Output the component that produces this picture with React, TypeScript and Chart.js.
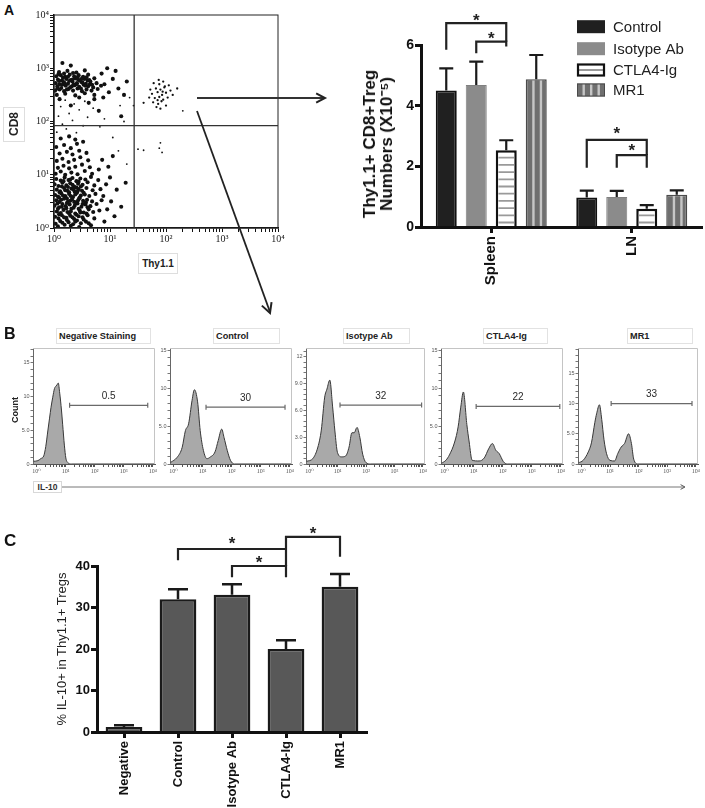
import React, { useEffect, useRef } from "react";
import { Chart, registerables } from "chart.js";

Chart.register(...registerables);

const SANS = "'Liberation Sans', Arial, Helvetica, sans-serif";
const SERIF = "'Liberation Serif', 'DejaVu Serif', 'Times New Roman', serif";

/* ================= DATA ================= */

// Panel A (left): CD8 vs Thy1.1 dot plot. Events as flat [log10 Thy1.1, log10 CD8] pairs.
const dotPlotGateThy11 = 27;
const dotPlotGateCD8 = 84;
const cd8NegThy11NegEvents = [
  0.03,0.08, 0.11,0.13, 0.19,0.06, 0.26,0.11, 0.34,0.07, 0.41,0.14, 0.48,0.09, 0.57,0.12, 0.66,0.05,
  0.02,0.21, 0.08,0.18, 0.14,0.24, 0.22,0.19, 0.29,0.23, 0.36,0.17, 0.44,0.22, 0.51,0.2, 0.6,0.24, 0.72,0.18,
  0.05,0.31, 0.12,0.28, 0.17,0.34, 0.24,0.3, 0.31,0.36, 0.38,0.27, 0.46,0.33, 0.53,0.29, 0.62,0.35, 0.7,0.3, 0.81,0.33,
  0.01,0.42, 0.09,0.39, 0.15,0.45, 0.21,0.41, 0.28,0.44, 0.35,0.38, 0.42,0.46, 0.49,0.4, 0.56,0.44, 0.65,0.41, 0.76,0.45,
  0.04,0.52, 0.1,0.49, 0.18,0.55, 0.25,0.5, 0.32,0.54, 0.39,0.48, 0.45,0.56, 0.52,0.51, 0.59,0.53, 0.68,0.5, 0.85,0.52,
  0.02,0.62, 0.07,0.59, 0.13,0.65, 0.2,0.6, 0.27,0.64, 0.34,0.58, 0.41,0.66, 0.48,0.61, 0.55,0.63, 0.63,0.6, 0.74,0.64,
  0.05,0.72, 0.11,0.69, 0.18,0.75, 0.24,0.7, 0.31,0.74, 0.37,0.68, 0.44,0.73, 0.5,0.7, 0.58,0.75, 0.69,0.71, 0.83,0.73,
  0.01,0.82, 0.08,0.79, 0.15,0.85, 0.22,0.8, 0.29,0.84, 0.36,0.78, 0.43,0.83, 0.51,0.81, 0.6,0.86, 0.72,0.8,
  0.04,0.92, 0.12,0.89, 0.19,0.95, 0.26,0.9, 0.33,0.94, 0.4,0.88, 0.47,0.93, 0.56,0.91, 0.66,0.96, 0.79,0.9,
  0.07,0.03, 0.15,0.1, 0.23,0.15, 0.3,0.04, 0.38,0.12, 0.45,0.02, 0.53,0.16, 0.62,0.09, 0.09,0.26, 0.18,0.2,
  0.27,0.27, 0.33,0.2, 0.4,0.25, 0.47,0.29, 0.58,0.27, 0.07,0.36, 0.14,0.4, 0.22,0.37, 0.3,0.31, 0.37,0.42,
  0.44,0.36, 0.51,0.45, 0.6,0.39, 0.06,0.46, 0.13,0.53, 0.23,0.47, 0.29,0.51, 0.36,0.49, 0.43,0.52, 0.57,0.48,
  0.09,0.57, 0.16,0.61, 0.23,0.56, 0.3,0.6, 0.38,0.63, 0.46,0.57, 0.53,0.66, 0.1,0.67, 0.2,0.71, 0.27,0.67,
  0.35,0.72, 0.42,0.69, 0.14,0.78, 0.25,0.77, 0.33,0.81, 0.4,0.76, 0.48,0.78, 0.17,0.88, 0.29,0.91, 0.44,0.87,
  0.03,1.02, 0.12,1.06, 0.2,1.0, 0.31,1.04, 0.42,1.01, 0.55,1.07, 0.68,1.02, 0.07,1.13, 0.17,1.17, 0.27,1.12,
  0.38,1.15, 0.5,1.19, 0.64,1.14, 0.8,1.1, 0.05,1.26, 0.15,1.3, 0.26,1.24, 0.36,1.28, 0.47,1.33, 0.61,1.27,
  0.1,1.4, 0.23,1.43, 0.33,1.38, 0.45,1.45, 0.58,1.41, 0.04,1.52, 0.18,1.56, 0.3,1.5, 0.41,1.58, 0.52,1.62,
  0.12,1.68, 0.27,1.72, 0.38,1.66,
  0.9,0.12, 0.95,0.35, 0.88,0.6, 0.93,0.82, 1.02,0.5, 1.08,0.22, 1.0,0.95, 1.12,0.72, 0.97,1.15, 1.2,0.4,
  1.28,0.85, 0.86,1.28, 1.05,1.35,
];
const cd8PosThy11NegEvents = [
  0.05,2.5, 0.2,2.52, 0.38,2.49, 0.55,2.53, 0.72,2.5,
  0.02,2.58, 0.1,2.6, 0.18,2.57, 0.26,2.61, 0.34,2.58, 0.42,2.62, 0.5,2.57, 0.58,2.6, 0.67,2.58, 0.78,2.61,
  0.06,2.66, 0.13,2.63, 0.21,2.67, 0.29,2.64, 0.37,2.68, 0.45,2.65, 0.53,2.69, 0.61,2.66, 0.7,2.64, 0.84,2.67,
  0.03,2.72, 0.1,2.7, 0.17,2.74, 0.25,2.71, 0.33,2.75, 0.41,2.72, 0.49,2.74, 0.57,2.71, 0.65,2.75, 0.76,2.72,
  0.07,2.79, 0.14,2.77, 0.22,2.8, 0.3,2.78, 0.38,2.81, 0.46,2.77, 0.54,2.8, 0.63,2.78, 0.72,2.81,
  0.04,2.85, 0.12,2.87, 0.2,2.84, 0.28,2.88, 0.36,2.85, 0.44,2.87, 0.52,2.84, 0.61,2.88,
  0.09,2.93, 0.24,2.95, 0.4,2.92, 0.55,2.96, 0.3,3.05,
  0.06,2.62, 0.15,2.69, 0.23,2.6, 0.32,2.66, 0.4,2.7, 0.48,2.62, 0.56,2.67, 0.64,2.7, 0.09,2.76, 0.19,2.72,
  0.27,2.76, 0.35,2.7, 0.43,2.79, 0.51,2.73, 0.6,2.77, 0.68,2.69, 0.16,2.82, 0.25,2.84, 0.33,2.79, 0.42,2.83,
  0.5,2.81, 0.58,2.83, 0.08,2.89, 0.18,2.9, 0.34,2.91,
  0.9,2.7, 0.98,2.55, 1.05,2.8, 0.88,2.45, 1.15,2.62, 1.25,2.5, 0.1,2.42, 0.3,2.3, 0.62,2.35, 0.85,2.9,
  1.1,2.95, 0.45,2.45, 0.72,2.42, 0.15,3.1, 0.95,3.0, 1.3,2.75, 0.8,2.2, 1.2,2.1,
];
const cd8PosThy11PosEvents = [
  1.78,2.72, 1.88,2.7, 1.95,2.75, 2.05,2.68, 1.82,2.62, 1.9,2.6, 1.97,2.64, 2.08,2.58, 1.75,2.52, 1.85,2.55,
  1.93,2.5, 2.0,2.54, 1.8,2.44, 1.88,2.46, 1.95,2.41, 2.03,2.45, 1.77,2.36, 1.86,2.33, 1.92,2.38, 2.0,2.3,
  1.83,2.27, 1.9,2.24, 1.98,2.66, 1.87,2.78, 2.12,2.5, 1.72,2.6, 1.94,2.56, 1.85,2.4, 2.2,2.62, 1.7,2.45, 1.6,2.35,
];
const scatteredEvents = [
  0.05,1.8, 0.22,1.86, 0.4,1.79, 0.15,1.95, 0.33,2.02, 0.52,1.92, 0.08,2.1, 0.27,2.15, 0.6,2.08, 0.45,2.22,
  0.12,2.28, 0.36,2.33, 0.7,2.25, 0.9,2.05, 1.05,1.7, 0.82,1.9, 1.18,2.3, 0.2,2.4, 0.55,2.38,
  1.42,2.3, 1.25,2.0, 1.5,1.48, 1.6,1.46, 1.9,1.6, 1.93,1.42, 1.88,1.5, 2.3,2.2, 1.35,2.45, 1.15,1.45, 1.3,1.2,
];

// Panel A (right): Thy1.1+ CD8+ Treg numbers (x10^-5)
const tissueLabels = ["Spleen", "LN"];
const groupLabels = ["Control", "Isotype Ab", "CTLA4-Ig", "MR1"];
const controlTreg = [4.5, 0.97];
const isotypeTreg = [4.68, 0.99];
const ctla4Treg = [2.53, 0.6];
const mr1Treg = [4.87, 1.06];
const controlTregSem = [0.73, 0.23];
const isotypeTregSem = [0.77, 0.2];
const ctla4TregSem = [0.33, 0.12];
const mr1TregSem = [0.8, 0.15];
const tregTicks = [0, 2, 4, 6];
// [tissue, fromGroup, toGroup, bracketLevel, leftFoot, rightFoot, starLevel]
const tregBrackets = [
  [0, 0, 2, 6.72, 5.84, 6.11, 6.93],
  [0, 1, 2, 6.11, 5.73, 5.95, 6.36],
  [1, 0, 2, 2.87, 1.95, 2.37, 3.2],
  [1, 1, 2, 2.37, 1.95, 1.95, 2.65],
];

// Panel B: IL-10 histograms, [log10 IL-10, count]
const histogramTitles = ["Negative Staining", "Control", "Isotype Ab", "CTLA4-Ig", "MR1"];
const histogramGateLabels = ["0.5", "30", "32", "22", "33"];
const negativeStainingCurve = [
  [-0.1,0.4],[0.05,0.5],[0.15,0.8],[0.25,1.2],[0.32,2.6],[0.39,4.9],[0.45,6.8],[0.5,8.4],[0.56,9.9],
  [0.62,11.2],[0.66,11.5],[0.7,11.7],[0.75,12.0],[0.8,10.5],[0.86,8.0],[0.9,5.9],[0.96,2.8],[1.01,0.9],
  [1.08,0.2],[1.2,0],[4.1,0],
];
const controlCurve = [
  [-0.1,0.2],[0.13,0.9],[0.3,2.2],[0.41,4.4],[0.52,5.3],[0.64,8.4],[0.72,9.8],[0.83,8.2],[0.92,4.4],
  [1.03,1.8],[1.15,0.7],[1.26,0.9],[1.43,1.6],[1.54,3.1],[1.66,4.6],[1.74,3.5],[1.85,1.8],[1.96,0.5],
  [2.1,0],[4.1,0],
];
const isotypeCurve = [
  [-0.1,0.3],[0.12,0.6],[0.3,1.9],[0.42,3.8],[0.54,7.5],[0.62,8.4],[0.72,9.4],[0.82,6.4],[0.9,3.7],
  [0.99,1.3],[1.14,0.8],[1.28,0.9],[1.4,1.9],[1.5,3.5],[1.58,3.5],[1.68,4.1],[1.78,3.0],[1.88,1.1],
  [2.0,0.15],[2.16,0],[4.1,0],
];
const ctla4Curve = [
  [-0.1,0.1],[0.05,0.5],[0.17,1.2],[0.35,2.9],[0.47,4.9],[0.56,7.5],[0.65,9.5],[0.77,5.2],[0.85,2.9],
  [0.95,0.5],[1.19,0.4],[1.37,0.8],[1.52,2.0],[1.65,2.7],[1.77,1.8],[1.88,1.4],[2.03,0.3],[2.17,0],[4.1,0],
];
const mr1Curve = [
  [-0.1,0.2],[0.06,0.6],[0.24,2.0],[0.35,3.5],[0.47,6.9],[0.53,8.3],[0.63,9.8],[0.71,7.4],[0.79,4.0],
  [0.88,1.7],[1.0,0.6],[1.16,0.5],[1.27,1.7],[1.39,2.8],[1.51,3.4],[1.65,5.0],[1.75,3.4],[1.83,0.8],
  [1.98,0],[4.1,0],
];
const histogramCurves = [negativeStainingCurve, controlCurve, isotypeCurve, ctla4Curve, mr1Curve];
const histogramYMax = [17.2, 15.3, 13.0, 15.3, 19.2];
const histogramYTicks = [[0, 5, 10, 15], [0, 5, 10, 15], [0, 3, 6, 9, 12], [0, 5, 10, 15], [0, 5, 10, 15]];
const histogramGateStart = [1.14, 1.12, 1.08, 1.09, 1.04];
const histogramGateEnd = [3.83, 3.84, 3.96, 3.97, 3.87];
const histogramGateLevel = [8.7, 7.5, 6.6, 7.6, 10.0];

// Panel C: % IL-10+ in Thy1.1+ Tregs
const il10Labels = ["Negative", "Control", "Isotype Ab", "CTLA4-Ig", "MR1"];
const il10Percent = [1.2, 32.0, 33.1, 20.0, 35.0];
const il10Sem = [0.4, 2.4, 2.5, 2.1, 3.1];
const il10Ticks = [0, 10, 20, 30, 40];
// [fromBar, toBar, bracketLevel, leftFoot, rightFoot, starLevel]
const il10Brackets = [
  [1, 3, 44.1, 41.4, 40.0, 46.3],
  [2, 3, 40.0, 37.3, 37.3, 41.9],
  [3, 4, 47.0, 44.3, 42.2, 48.7],
];

/* ================= HELPERS ================= */

const SUP = ["⁰", "¹", "²", "³", "⁴"];
const decadeTicks: number[] = [];
for (let d = 0; d < 4; d++) for (let k = 1; k < 10; k++) decadeTicks.push(k * Math.pow(10, d));
decadeTicks.push(10000);
const logLabel = (v: number) => {
  const e = Math.log10(v);
  const r = Math.round(e);
  return Math.abs(e - r) < 1e-6 && r >= 0 && r <= 4 ? "10" + SUP[r] : "";
};
const toPoints = (flat: number[]) => {
  const out: { x: number; y: number }[] = [];
  for (let i = 0; i < flat.length; i += 2) out.push({ x: Math.pow(10, flat[i]), y: Math.pow(10, flat[i + 1]) });
  return out;
};
const zeroPad = (s: any) => { s.paddingLeft = 0; s.paddingRight = 0; s.paddingTop = 0; s.paddingBottom = 0; };
const fixWidth = (w: number) => (s: any) => { s.width = w; zeroPad(s); };
const fixHeight = (h: number) => (s: any) => { s.height = h; zeroPad(s); };
const setTicks = (vals: number[]) => (s: any) => { s.ticks = vals.map((v) => ({ value: v })); };

function drawStar(ctx: any, x: number, cy: number) {
  ctx.save();
  ctx.fillStyle = "#222";
  ctx.font = `bold 17px ${SANS}`;
  ctx.textAlign = "center";
  ctx.textBaseline = "alphabetic";
  ctx.fillText("*", x, cy + 9.5);
  ctx.restore();
}
function hStripes(ctx: any, l: number, t: number, r: number, b: number) {
  if (b - t <= 0) return;
  ctx.save();
  ctx.beginPath(); ctx.rect(l, t, r - l, b - t); ctx.clip();
  ctx.strokeStyle = "#9a9a9a"; ctx.lineWidth = 1.8;
  for (let yy = b - 4; yy > t; yy -= 7.2) { ctx.beginPath(); ctx.moveTo(l, yy); ctx.lineTo(r, yy); ctx.stroke(); }
  ctx.restore();
}
function vStripes(ctx: any, l: number, t: number, r: number, b: number) {
  ctx.save();
  ctx.beginPath(); ctx.rect(l, t, r - l, b - t); ctx.clip();
  ctx.fillStyle = "#c6c6c6";
  for (let xx = l + 5.5; xx < r - 2; xx += 7.5) ctx.fillRect(xx, t, 2.4, b - t);
  ctx.restore();
}

function ChartBox({ left, top, width, height, make }: any) {
  const ref = useRef<HTMLCanvasElement>(null);
  useEffect(() => {
    const chart = new Chart(ref.current as HTMLCanvasElement, make());
    return () => chart.destroy();
  }, []);
  return <canvas ref={ref} width={width} height={height} style={{ position: "absolute", left, top, width, height }} />;
}

/* ================= CHART CONFIGS ================= */

const dotPlotOverlay = {
  id: "dotPlotOverlay",
  afterDatasetsDraw(chart: any) {
    const { ctx, chartArea: a, scales } = chart;
    ctx.save();
    ctx.strokeStyle = "#222"; ctx.lineWidth = 1;
    ctx.strokeRect(a.left, a.top, a.right - a.left, a.bottom - a.top);
    const gx = scales.x.getPixelForValue(dotPlotGateThy11);
    const gy = scales.y.getPixelForValue(dotPlotGateCD8);
    ctx.strokeStyle = "#333"; ctx.lineWidth = 1.3;
    ctx.beginPath();
    ctx.moveTo(gx, a.top); ctx.lineTo(gx, a.bottom);
    ctx.moveTo(a.left, gy); ctx.lineTo(a.right, gy);
    ctx.stroke();
    ctx.restore();
  },
};

const logAxis = (size: number, afterFit: any) => ({
  type: "logarithmic",
  min: 1,
  max: 10000,
  afterBuildTicks: setTicks(decadeTicks),
  ticks: { autoSkip: false, maxRotation: 0, callback: (v: any) => logLabel(Number(v)), font: { family: SERIF, size }, color: "#222", padding: 1 },
  grid: { drawOnChartArea: false, tickLength: 4, tickColor: "#111" },
  border: { color: "#111", width: 1.5 },
  afterFit,
});

const dotPlotConfig = () => ({
  type: "scatter",
  data: {
    datasets: [
      { data: toPoints(cd8NegThy11NegEvents), pointRadius: 2.05, backgroundColor: "#111", borderWidth: 0 },
      { data: toPoints(cd8PosThy11NegEvents), pointRadius: 2.05, backgroundColor: "#111", borderWidth: 0 },
      { data: toPoints(cd8PosThy11PosEvents), pointRadius: 1.15, backgroundColor: "#111", borderWidth: 0 },
      { data: toPoints(scatteredEvents), pointRadius: 0.9, backgroundColor: "#111", borderWidth: 0 },
    ],
  },
  options: {
    animation: false, responsive: false, events: [],
    layout: { padding: { top: 9, right: 8, left: 0, bottom: 0 } },
    plugins: { legend: { display: false }, tooltip: { enabled: false } },
    scales: { x: logAxis(10, fixHeight(22)), y: logAxis(10, fixWidth(26)) },
  },
  plugins: [dotPlotOverlay],
});

const tregSems = [controlTregSem, isotypeTregSem, ctla4TregSem, mr1TregSem];
const tregOverlay = {
  id: "tregOverlay",
  afterDatasetsDraw(chart: any) {
    const { ctx, scales, chartArea } = chart;
    const y = scales.y;
    ctx.save();
    chart.getDatasetMeta(2).data.forEach((el: any) => {
      const p = el.getProps(["x", "y", "base", "width"], true);
      hStripes(ctx, p.x - p.width / 2 + 2.5, p.y + 2.5, p.x + p.width / 2 - 2.5, p.base);
    });
    chart.getDatasetMeta(3).data.forEach((el: any) => {
      const p = el.getProps(["x", "y", "base", "width"], true);
      vStripes(ctx, p.x - p.width / 2 + 1, p.y + 1, p.x + p.width / 2 - 1, p.base);
    });
    ctx.strokeStyle = "#1a1a1a"; ctx.lineWidth = 2.2;
    tregSems.forEach((sems, d) => {
      chart.getDatasetMeta(d).data.forEach((el: any, i: number) => {
        const p = el.getProps(["x", "y"], true);
        const v = chart.data.datasets[d].data[i];
        const ty = y.getPixelForValue(v + sems[i]);
        ctx.beginPath();
        ctx.moveTo(p.x, p.y); ctx.lineTo(p.x, ty);
        ctx.moveTo(p.x - 7, ty); ctx.lineTo(p.x + 7, ty);
        ctx.stroke();
      });
    });
    ctx.lineWidth = 2.2; ctx.strokeStyle = "#222";
    tregBrackets.forEach(([t, a, b, lv, lf, rf, st]) => {
      const x1 = chart.getDatasetMeta(a).data[t].x;
      const x2 = chart.getDatasetMeta(b).data[t].x;
      const py = y.getPixelForValue(lv);
      ctx.beginPath();
      ctx.moveTo(x1, y.getPixelForValue(lf)); ctx.lineTo(x1, py); ctx.lineTo(x2, py); ctx.lineTo(x2, y.getPixelForValue(rf));
      ctx.stroke();
      drawStar(ctx, (x1 + x2) / 2, y.getPixelForValue(st));
    });
    // legend
    const lx = chartArea.right - 125;
    const rows = [26.7, 48.7, 70, 90];
    groupLabels.forEach((label, i) => {
      const cy = rows[i];
      const t = cy - 6.5, h = 13, w = 28;
      if (i === 0) { ctx.fillStyle = "#202020"; ctx.fillRect(lx, t, w, h); }
      if (i === 1) { ctx.fillStyle = "#8b8b8b"; ctx.fillRect(lx, t, w, h); }
      if (i === 2) {
        ctx.fillStyle = "#fff"; ctx.fillRect(lx, t, w, h);
        ctx.fillStyle = "#9a9a9a"; ctx.fillRect(lx + 2, cy - 1, w - 4, 2);
        ctx.strokeStyle = "#111"; ctx.lineWidth = 2.2; ctx.strokeRect(lx + 1, t + 1, w - 2, h - 2);
      }
      if (i === 3) {
        ctx.fillStyle = "#6f6f6f"; ctx.fillRect(lx, t, w, h);
        vStripes(ctx, lx, t, lx + w, t + h);
        ctx.strokeStyle = "#4a4a4a"; ctx.lineWidth = 1; ctx.strokeRect(lx + 0.5, t + 0.5, w - 1, h - 1);
      }
      ctx.fillStyle = "#222";
      ctx.font = `15px ${SANS}`;
      ctx.textAlign = "left"; ctx.textBaseline = "middle";
      ctx.fillText(label, lx + 36, cy + 1);
    });
    ctx.restore();
  },
};

const boldAxis = () => ({
  grid: { drawOnChartArea: false, tickLength: 6, tickWidth: 3, tickColor: "#111" },
  border: { color: "#111", width: 3, z: 1 },
});

const tregBarConfig = () => {
  const common = { categoryPercentage: 0.854, barPercentage: 0.7 };
  return {
    type: "bar",
    data: {
      labels: tissueLabels,
      datasets: [
        { label: groupLabels[0], data: controlTreg, backgroundColor: "#202020", borderColor: "#111", borderWidth: 2, ...common },
        { label: groupLabels[1], data: isotypeTreg, backgroundColor: "#8b8b8b", borderColor: "#808080", borderWidth: 1, ...common },
        { label: groupLabels[2], data: ctla4Treg, backgroundColor: "#ffffff", borderColor: "#111", borderWidth: 2.5, ...common },
        { label: groupLabels[3], data: mr1Treg, backgroundColor: "#6f6f6f", borderColor: "#4a4a4a", borderWidth: 1.5, ...common },
      ],
    },
    options: {
      animation: false, responsive: false, events: [],
      layout: { padding: { top: 45, right: 3, left: 0, bottom: 0 } },
      plugins: { legend: { display: false }, tooltip: { enabled: false } },
      scales: {
        x: {
          ...boldAxis(),
          grid: { offset: false, drawOnChartArea: false, tickLength: 6, tickWidth: 3, tickColor: "#111" },
          ticks: { font: { family: SANS, size: 15, weight: "bold" }, color: "#111", minRotation: 90, maxRotation: 90, padding: 3, autoSkip: false },
          afterFit: fixHeight(73),
        },
        y: {
          ...boldAxis(),
          min: 0, max: 6,
          afterBuildTicks: setTicks(tregTicks),
          ticks: { font: { family: SANS, size: 14, weight: "bold" }, color: "#111", padding: 1 },
          afterFit: fixWidth(71),
        },
      },
    },
    plugins: [tregOverlay],
  };
};

const histogramOverlay = (i: number) => ({
  id: "histOverlay" + i,
  afterDatasetsDraw(chart: any) {
    const { ctx, chartArea: a, scales } = chart;
    ctx.save();
    ctx.strokeStyle = "#c4c4c4"; ctx.lineWidth = 1;
    ctx.beginPath();
    ctx.moveTo(a.left, a.top + 0.5); ctx.lineTo(a.right - 0.5, a.top + 0.5); ctx.lineTo(a.right - 0.5, a.bottom);
    ctx.stroke();
    const x1 = scales.x.getPixelForValue(Math.pow(10, histogramGateStart[i]));
    const x2 = scales.x.getPixelForValue(Math.pow(10, histogramGateEnd[i]));
    const gy = scales.y.getPixelForValue(histogramGateLevel[i]);
    ctx.strokeStyle = "#6a6a6a"; ctx.lineWidth = 1.2;
    ctx.beginPath();
    ctx.moveTo(x1, gy); ctx.lineTo(x2, gy);
    ctx.moveTo(x1, gy - 2.5); ctx.lineTo(x1, gy + 2.5);
    ctx.moveTo(x2, gy - 2.5); ctx.lineTo(x2, gy + 2.5);
    ctx.stroke();
    ctx.fillStyle = "#2a2a2a";
    ctx.font = `10px ${SANS}`;
    ctx.textAlign = "center"; ctx.textBaseline = "alphabetic";
    ctx.fillText(histogramGateLabels[i], (x1 + x2) / 2, gy - 6.3);
    ctx.restore();
  },
});

const histogramConfig = (i: number) => () => {
  const majors = histogramYTicks[i];
  const step = majors[1] - majors[0];
  const all: number[] = [];
  for (let v = 0; v <= histogramYMax[i] + 1e-9; v += step / 5) all.push(Math.round(v * 100) / 100);
  return {
    type: "line",
    data: {
      datasets: [{
        data: histogramCurves[i].map(([lx, c]) => ({ x: Math.pow(10, lx), y: c })),
        fill: "origin", backgroundColor: "#a9a9a9", borderColor: "#383838", borderWidth: 1,
        pointRadius: 0, cubicInterpolationMode: "monotone",
      }],
    },
    options: {
      animation: false, responsive: false, events: [],
      layout: { padding: { top: 4, right: 2, left: 0, bottom: 0 } },
      plugins: { legend: { display: false }, tooltip: { enabled: false } },
      scales: {
        x: {
          type: "logarithmic", min: Math.pow(10, -0.12), max: Math.pow(10, 4.08),
          afterBuildTicks: setTicks(decadeTicks),
          ticks: { autoSkip: false, maxRotation: 0, callback: (v: any) => logLabel(Number(v)), font: { family: SERIF, size: 6 }, color: "#555", padding: 1 },
          grid: { drawOnChartArea: false, tickLength: 3, tickColor: "#555" },
          border: { color: "#555", width: 1 },
          afterFit: fixHeight(16),
        },
        y: {
          min: 0, max: histogramYMax[i],
          afterBuildTicks: setTicks(all),
          ticks: {
            autoSkip: false,
            callback: (v: any) => {
              const n = Number(v);
              if (!majors.some((m) => Math.abs(m - n) < 1e-6)) return "";
              return n === 0 ? "0" : n < 10 ? n.toFixed(1) : String(n);
            },
            font: { family: SANS, size: 5.5 }, color: "#555", padding: 1,
          },
          grid: { drawOnChartArea: false, tickLength: 2.5, tickColor: "#777" },
          border: { color: "#666", width: 1 },
          afterFit: fixWidth(22),
        },
      },
    },
    plugins: [histogramOverlay(i)],
  };
};

const il10Overlay = {
  id: "il10Overlay",
  afterDatasetsDraw(chart: any) {
    const { ctx, scales } = chart;
    const y = scales.y;
    const meta = chart.getDatasetMeta(0);
    ctx.save();
    ctx.strokeStyle = "#1a1a1a"; ctx.lineWidth = 2.5;
    meta.data.forEach((el: any, i: number) => {
      const p = el.getProps(["x", "y"], true);
      const ty = y.getPixelForValue(il10Percent[i] + il10Sem[i]);
      ctx.beginPath();
      ctx.moveTo(p.x, p.y); ctx.lineTo(p.x, ty);
      ctx.moveTo(p.x - 10, ty); ctx.lineTo(p.x + 10, ty);
      ctx.stroke();
    });
    ctx.strokeStyle = "#222"; ctx.lineWidth = 2.2;
    il10Brackets.forEach(([a, b, lv, lf, rf, st]) => {
      const x1 = meta.data[a].x, x2 = meta.data[b].x;
      const py = y.getPixelForValue(lv);
      ctx.beginPath();
      ctx.moveTo(x1, y.getPixelForValue(lf)); ctx.lineTo(x1, py); ctx.lineTo(x2, py); ctx.lineTo(x2, y.getPixelForValue(rf));
      ctx.stroke();
      drawStar(ctx, (x1 + x2) / 2, y.getPixelForValue(st));
    });
    ctx.restore();
  },
};

const il10BarConfig = () => ({
  type: "bar",
  data: {
    labels: il10Labels,
    datasets: [{ data: il10Percent, backgroundColor: "#585858", borderColor: "#1a1a1a", borderWidth: 2.5, categoryPercentage: 1, barPercentage: 0.68 }],
  },
  options: {
    animation: false, responsive: false, events: [],
    layout: { padding: { top: 51, right: 13, left: 0, bottom: 0 } },
    plugins: { legend: { display: false }, tooltip: { enabled: false } },
    scales: {
      x: {
        grid: { offset: false, drawOnChartArea: false, tickLength: 6, tickWidth: 3, tickColor: "#111" },
        border: { color: "#111", width: 3, z: 1 },
        ticks: { font: { family: SANS, size: 13, weight: "bold" }, color: "#111", minRotation: 90, maxRotation: 90, padding: 3, autoSkip: false },
        afterFit: fixHeight(76),
      },
      y: {
        min: 0, max: 40,
        afterBuildTicks: setTicks(il10Ticks),
        grid: { drawOnChartArea: false, tickLength: 6, tickWidth: 3, tickColor: "#111" },
        border: { color: "#111", width: 3, z: 1 },
        ticks: { font: { family: SANS, size: 13, weight: "bold" }, color: "#111", padding: 1 },
        afterFit: fixWidth(57),
      },
    },
  },
  plugins: [il10Overlay],
});

/* ================= LAYOUT ================= */

const histLeft = [33, 170, 306, 441, 578];
const histRight = [155, 292, 425, 563, 698];
const histTitleBox = [[56, 151], [213, 280], [343, 410], [483, 548], [627, 693]];

function Rot({ cx, cy, children, style }: any) {
  return (
    <div style={{ position: "absolute", left: cx, top: cy, transform: "translate(-50%, -50%) rotate(-90deg)", whiteSpace: "nowrap", textAlign: "center", ...style }}>
      {children}
    </div>
  );
}

function chevron(x1: number, y1: number, x2: number, y2: number, len: number) {
  const dx = x2 - x1, dy = y2 - y1;
  const L = Math.hypot(dx, dy);
  const ux = dx / L, uy = dy / L;
  const a = (28 * Math.PI) / 180;
  const p = (s: number) => {
    const c = Math.cos(a), sn = Math.sin(a) * s;
    const rx = -ux * c + uy * sn, ry = -uy * c - ux * sn;
    return `${x2 + rx * len},${y2 + ry * len}`;
  };
  return `${p(1)} ${x2},${y2} ${p(-1)}`;
}

export default function App() {
  const letter = { position: "absolute" as const, fontFamily: SANS, fontWeight: "bold" as const, lineHeight: 1, color: "#111" };
  return (
    <div style={{ position: "absolute", left: 0, top: 0, width: 705, height: 808, background: "#fff", overflow: "hidden", fontFamily: SANS }}>
      <ChartBox left={28} top={6} width={258} height={244} make={dotPlotConfig} />
      <ChartBox left={350} top={0} width={355} height={300} make={tregBarConfig} />
      {histLeft.map((L, i) => (
        <ChartBox key={i} left={L - 22} top={344} width={histRight[i] - L + 24} height={136} make={histogramConfig(i)} />
      ))}
      <ChartBox left={40} top={515} width={340} height={293} make={il10BarConfig} />

      <div style={{ ...letter, left: 4, top: 3, fontSize: 14 }}>A</div>
      <div style={{ ...letter, left: 4, top: 326, fontSize: 16 }}>B</div>
      <div style={{ ...letter, left: 4, top: 532, fontSize: 17 }}>C</div>

      <div style={{ position: "absolute", left: 3, top: 107, width: 22, height: 35, border: "1px solid #dedede", boxSizing: "border-box" }} />
      <Rot cx={14} cy={124} style={{ fontFamily: SANS, fontWeight: "bold", fontSize: 12, color: "#222" }}>CD8</Rot>
      <div style={{ position: "absolute", left: 138, top: 253, width: 40, height: 21, border: "1px solid #dedede", boxSizing: "border-box", fontFamily: SANS, fontWeight: "bold", fontSize: 10, lineHeight: "19px", textAlign: "center", color: "#222" }}>Thy1.1</div>

      <Rot cx={377.5} cy={144} style={{ fontFamily: SANS, fontWeight: "bold", fontSize: 17, lineHeight: "17px", color: "#111" }}>
        Thy1.1+ CD8+Treg<br />Numbers (X10⁻⁵)
      </Rot>

      {histTitleBox.map(([l, r], i) => (
        <div key={i} style={{ position: "absolute", left: l, top: 328, width: r - l, height: 16, border: "1px solid #e2e2e2", boxSizing: "border-box", fontFamily: SANS, fontWeight: "bold", fontSize: 9.2, lineHeight: "14px", paddingLeft: 2, color: "#222", whiteSpace: "nowrap" }}>
          {histogramTitles[i]}
        </div>
      ))}
      <Rot cx={15} cy={410} style={{ fontFamily: SANS, fontWeight: "bold", fontSize: 9, color: "#222" }}>Count</Rot>
      <div style={{ position: "absolute", left: 33, top: 481, width: 29, height: 12, border: "1px solid #d8d8d8", boxSizing: "border-box", fontFamily: SANS, fontWeight: "bold", fontSize: 8.5, lineHeight: "10px", textAlign: "center", color: "#333" }}>IL-10</div>

      <Rot cx={61} cy={649} style={{ fontFamily: SANS, fontSize: 13, color: "#222" }}>% IL-10+ in Thy1.1+ Tregs</Rot>

      <svg width={705} height={808} style={{ position: "absolute", left: 0, top: 0, pointerEvents: "none" }}>
        <line x1={197} y1={98} x2={324} y2={98} stroke="#333" strokeWidth={2} />
        <polyline points={chevron(197, 98, 325, 98, 10)} fill="none" stroke="#222" strokeWidth={2} />
        <line x1={197} y1={111} x2={270} y2={312} stroke="#222" strokeWidth={1.8} />
        <polyline points={chevron(197, 111, 270, 313, 11)} fill="none" stroke="#222" strokeWidth={2} />
        <line x1={62} y1={487} x2={684} y2={487} stroke="#777" strokeWidth={1} />
        <polyline points={chevron(62, 487, 685, 487, 5)} fill="none" stroke="#555" strokeWidth={1} />
      </svg>
    </div>
  );
}
